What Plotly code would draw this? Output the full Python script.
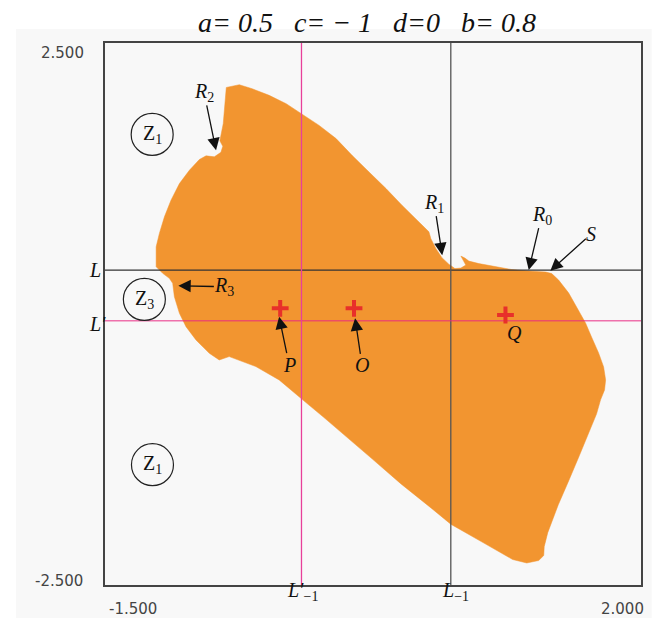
import plotly.graph_objects as go

# Parameters shown in the heading
param_a, param_c, param_d, param_b = 0.5, -1, 0, 0.8

# Boundary of the orange region (traced clockwise from the upper-left corner)
region_x = [-0.708, -0.623, -0.539, -0.428, -0.317, -0.219, -0.102, 0.009, 0.113, 0.224,
            0.335, 0.439, 0.550, 0.615, 0.628, 0.661, 0.700, 0.745, 0.785, 0.824,
            0.856, 0.837, 0.824, 0.850, 0.876, 0.941, 1.071, 1.156, 1.267, 1.378,
            1.417, 1.462, 1.528, 1.593, 1.638, 1.677, 1.723, 1.756, 1.769, 1.762,
            1.736, 1.710, 1.655, 1.597, 1.528, 1.460, 1.391, 1.368, 1.365, 1.332,
            1.254, 1.162, 0.980, 0.758, 0.635, 0.431, 0.248, 0.065, -0.072, -0.209,
            -0.363, -0.515, -0.623, -0.689, -0.754, -0.819, -0.906, -0.971, -1.014, -1.047,
            -1.058, -1.080, -1.123, -1.166, -1.166, -1.145, -1.112, -1.069, -1.014, -0.949,
            -0.884, -0.840, -0.786, -0.743, -0.731, -0.750, -0.728, -0.718, -0.708]
region_y = [2.090, 2.115, 2.078, 2.017, 1.940, 1.848, 1.740, 1.618, 1.464, 1.310,
            1.157, 1.004, 0.850, 0.758, 0.695, 0.603, 0.520, 0.460, 0.419, 0.424,
            0.451, 0.506, 0.534, 0.516, 0.488, 0.465, 0.433, 0.410, 0.396, 0.387,
            0.373, 0.313, 0.193, 0.037, -0.083, -0.212, -0.359, -0.488, -0.608, -0.700,
            -0.792, -0.921, -1.114, -1.308, -1.538, -1.759, -2.017, -2.146, -2.228, -2.274,
            -2.297, -2.265, -2.118, -1.939, -1.796, -1.565, -1.341, -1.114, -0.953, -0.792,
            -0.608, -0.485, -0.424, -0.393, -0.424, -0.362, -0.239, -0.117, 0.006, 0.159,
            0.283, 0.329, 0.375, 0.436, 0.620, 0.743, 0.896, 1.050, 1.203, 1.326,
            1.425, 1.459, 1.450, 1.492, 1.547, 1.598, 1.756, 1.924, 2.090]

# Critical lines and their rank-one preimages
line_L_y = 0.405
line_Lp_y = -0.062
line_Lm1_x = 0.758
line_Lpm1_x = -0.217

# Fixed points
point_names = ["P", "O", "Q"]
point_x = [-0.356, 0.126, 1.115]
point_y = [0.052, 0.052, -0.009]

# Axis extents and end labels
x_range = [-1.5, 2.0]
y_range = [-2.5, 2.5]
x_tick_labels = ["-1.500", "2.000"]
y_tick_labels = ["2.500", "-2.500"]

# Labels that point at boundary features: text, arrow tip (data), label offset (px)
arrow_labels = ["<i>R</i><sub>2</sub>", "<i>R</i><sub>1</sub>", "<i>R</i><sub>0</sub>",
                "<i>S</i>", "<i>R</i><sub>3</sub>", "<i>P</i>", "<i>O</i>"]
arrow_tip_x = [-0.775, 0.702, 1.267, 1.408, -1.021, -0.363, 0.133]
arrow_tip_y = [1.510, 0.543, 0.405, 0.399, 0.261, -0.025, -0.040]
arrow_label_dx = [-12, -8, 13, 41, 46, 10, 7]
arrow_label_dy = [-58, -52, -55, -37, 1, 48, 47]

# Q is labelled without an arrow
q_label_x = 1.176
q_label_y = -0.175

# Zone markers
zone_labels = ["Z<sub>1</sub>", "Z<sub>3</sub>", "Z<sub>1</sub>"]
zone_x = [-1.192, -1.243, -1.190]
zone_y = [1.657, 0.135, -1.390]

ORANGE = "#F29530"
PINK = "#E8409A"
SERIF = "Liberation Serif"
SANS = "DejaVu Sans"

fig = go.Figure()

fig.add_trace(go.Scatter(
    x=region_x, y=region_y, mode="lines", fill="toself",
    fillcolor=ORANGE, line=dict(color=ORANGE, width=0.5),
    hoverinfo="skip", showlegend=False))

# Black lines L and L_-1
fig.add_trace(go.Scatter(x=x_range, y=[line_L_y, line_L_y], mode="lines",
                         line=dict(color="#333333", width=1.3), showlegend=False))
fig.add_trace(go.Scatter(x=[line_Lm1_x, line_Lm1_x], y=y_range, mode="lines",
                         line=dict(color="#555555", width=1.3), showlegend=False))
# Pink lines L' and L'_-1
fig.add_trace(go.Scatter(x=x_range, y=[line_Lp_y, line_Lp_y], mode="lines",
                         line=dict(color="rgba(232,40,130,0.65)", width=1.6), showlegend=False))
fig.add_trace(go.Scatter(x=[line_Lpm1_x, line_Lpm1_x], y=y_range, mode="lines",
                         line=dict(color=PINK, width=1.3), showlegend=False))

# Fixed points as red crosses
fig.add_trace(go.Scatter(
    x=point_x, y=point_y, mode="markers",
    marker=dict(symbol="cross-thin", size=12, line=dict(color="#E8302A", width=4)),
    showlegend=False))

annotations = []

# Heading
annotations.append(dict(
    xref="paper", yref="paper", x=0.489, y=1.038, showarrow=False,
    text=(f"<i>a= {param_a}&nbsp;&nbsp;&nbsp;c= \u2212 {abs(param_c)}&nbsp;&nbsp;&nbsp;"
          f"d={param_d}&nbsp;&nbsp;&nbsp;b= {param_b}</i>"),
    font=dict(family=SERIF, size=28, color="#111111"),
    xanchor="center", yanchor="middle"))

# End labels on the axes
tick_font = dict(family=SANS, size=15, color="#444444")
annotations.append(dict(xref="x", yref="paper", x=x_range[0], y=0, text=x_tick_labels[0],
                        showarrow=False, xanchor="left", yanchor="middle",
                        xshift=2, yshift=-24, font=tick_font))
annotations.append(dict(xref="x", yref="paper", x=x_range[1], y=0, text=x_tick_labels[1],
                        showarrow=False, xanchor="right", yanchor="middle",
                        xshift=5, yshift=-24, font=tick_font))
annotations.append(dict(xref="paper", yref="y", x=0, y=y_range[1], text=y_tick_labels[0],
                        showarrow=False, xanchor="right", yanchor="middle",
                        xshift=-19, yshift=-10, font=tick_font))
annotations.append(dict(xref="paper", yref="y", x=0, y=y_range[0], text=y_tick_labels[1],
                        showarrow=False, xanchor="right", yanchor="middle",
                        xshift=-20, yshift=4, font=tick_font))

# Line labels
line_font = dict(family=SERIF, size=20, color="#111111")
annotations.append(dict(xref="paper", yref="y", x=0, y=line_L_y, text="<i>L</i>",
                        showarrow=False, xshift=-18, font=line_font))
annotations.append(dict(xref="paper", yref="y", x=0, y=line_Lp_y, text="<i>L\u2032</i>",
                        showarrow=False, xshift=-18, yshift=-3, font=line_font))
annotations.append(dict(xref="x", yref="paper", x=line_Lpm1_x, y=0,
                        text="<i>L\u2032</i><sub>\u22121</sub>", showarrow=False,
                        xshift=1, yshift=-21, font=line_font))
annotations.append(dict(xref="x", yref="paper", x=line_Lm1_x, y=0,
                        text="<i>L</i><sub>\u22121</sub>", showarrow=False,
                        xshift=5, yshift=-21, font=line_font))

# Feature labels with arrows running from the label to the feature
label_font = dict(family=SERIF, size=20, color="#111111")
for lab, tx, ty, dx, dy in zip(arrow_labels, arrow_tip_x, arrow_tip_y,
                               arrow_label_dx, arrow_label_dy):
    annotations.append(dict(xref="x", yref="y", x=tx, y=ty, ax=dx, ay=dy, text=lab,
                            showarrow=True, arrowhead=2, arrowsize=1.9, arrowwidth=1.3,
                            arrowcolor="#111111", standoff=0, borderpad=0,
                            font=label_font))

annotations.append(dict(xref="x", yref="y", x=q_label_x, y=q_label_y, text="<i>Q</i>",
                        showarrow=False, font=label_font))

shapes = [
    # light grey panel behind the chart
    dict(type="rect", xref="paper", yref="paper", x0=-0.166, x1=1.02, y0=-0.07, y1=1.026,
         fillcolor="#F8F8F8", line=dict(width=0), layer="below"),
]

for zl, zx, zy in zip(zone_labels, zone_x, zone_y):
    shapes.append(dict(type="circle", xref="x", yref="y", xsizemode="pixel", ysizemode="pixel",
                       xanchor=zx, yanchor=zy, x0=-21, x1=21, y0=-21, y1=21,
                       line=dict(color="#222222", width=1.2)))
    annotations.append(dict(xref="x", yref="y", x=zx, y=zy, text=zl, showarrow=False,
                            font=dict(family=SERIF, size=20, color="#111111")))

fig.update_layout(
    width=653, height=618,
    margin=dict(l=105, r=10, t=43, b=33),
    paper_bgcolor="white", plot_bgcolor="#F8F8F8",
    showlegend=False,
    annotations=annotations, shapes=shapes,
    xaxis=dict(range=x_range, showgrid=False, zeroline=False, showticklabels=False,
               ticks="", showline=True, mirror=True, linecolor="#444444", linewidth=1.5),
    yaxis=dict(range=y_range, showgrid=False, zeroline=False, showticklabels=False,
               ticks="", showline=True, mirror=True, linecolor="#444444", linewidth=1.5),
)

fig.write_html("out.html")
